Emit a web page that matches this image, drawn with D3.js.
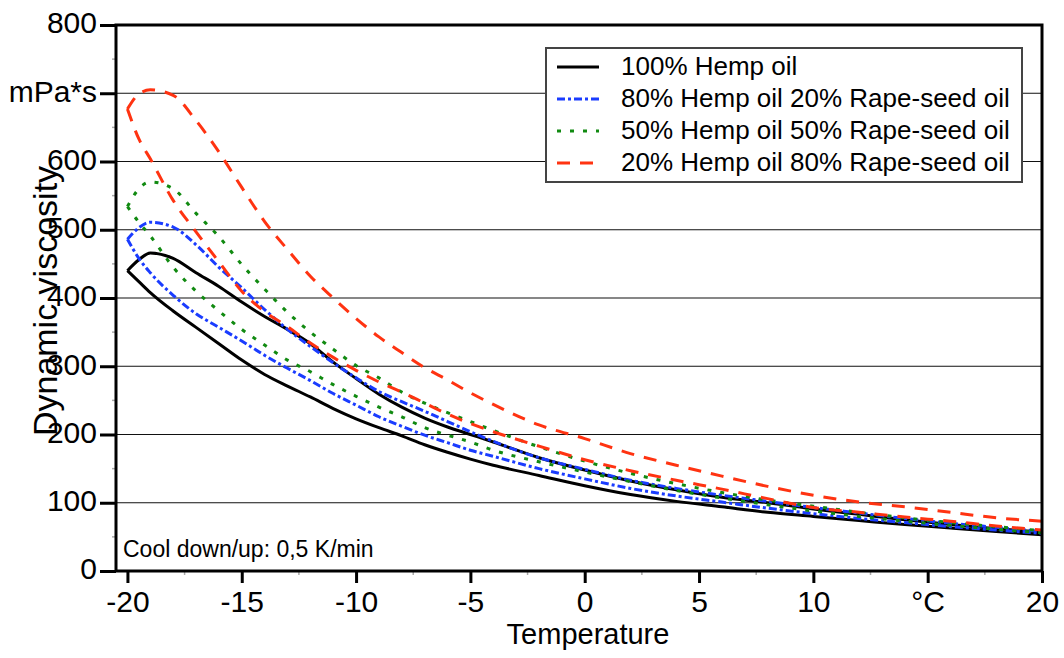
<!DOCTYPE html>
<meta charset="utf-8">
<script src="https://d3js.org/d3.v7.min.js"></script>
<html>
<body style="margin:0; background:#fff;">
<div id="chart"></div>
<script>
// temperature grid (°C) shared by all branches
var temps = [-20, -19.5, -19, -18, -17, -16, -15, -14, -13, -12, -11, -10, -9, -8, -7, -6, -5, -4, -2, 0, 2, 4, 6, 8, 10, 12, 14, 16, 18, 20];

// dynamic viscosity, mPa*s - upper and lower branch of each loop
var hempUpper  = [440, 456, 466, 458, 437, 417, 394, 373, 354, 333, 306, 282, 259, 240, 224, 211, 200, 189, 166, 148, 132, 119, 108, 100, 91, 83, 75, 68, 62, 57];
var hempLower  = [440, 424, 408, 381, 357, 333, 309, 288, 271, 255, 238, 223, 210, 198, 185, 174, 164, 155, 140, 125, 112, 102, 94, 86, 80, 74, 68, 63, 58, 53];
var mix80Upper = [486, 503, 511, 504, 478, 445, 415, 383, 354, 329, 305, 283, 263, 248, 234, 219, 204, 190, 166, 149, 133, 121, 111, 102, 93, 85, 77, 70, 64, 58];
var mix80Lower = [486, 458, 437, 404, 377, 357, 337, 316, 297, 279, 260, 243, 226, 212, 199, 188, 177, 168, 150, 135, 121, 110, 101, 92, 84, 77, 71, 65, 60, 55];
var mix50Upper = [534, 560, 570, 560, 524, 490, 449, 413, 379, 350, 325, 301, 283, 262, 246, 232, 219, 206, 182, 161, 143, 128, 115, 104, 95, 86, 78, 71, 65, 59];
var mix50Lower = [534, 511, 491, 445, 410, 381, 354, 331, 309, 292, 273, 256, 240, 226, 210, 199, 189, 177, 160, 145, 131, 118, 107, 97, 88, 80, 73, 67, 61, 56];
var mix20Upper = [677, 699, 705, 697, 660, 614, 562, 512, 471, 432, 400, 370, 343, 320, 298, 280, 261, 244, 214, 194, 172, 155, 139, 124, 111, 101, 94, 86, 78, 73];
var mix20Lower = [677, 633, 604, 543, 497, 453, 410, 380, 358, 334, 313, 294, 277, 262, 246, 230, 216, 204, 183, 163, 147, 133, 120, 106, 93, 86, 79, 73, 66, 60];

var seriesNames = ["100% Hemp oil", "80% Hemp oil 20% Rape-seed oil", "50% Hemp oil 50% Rape-seed oil", "20% Hemp oil 80% Rape-seed oil"];
var xTicks = [-20, -15, -10, -5, 0, 5, 10, 15, 20];
var xTickLabels = ["-20", "-15", "-10", "-5", "0", "5", "10", "°C", "20"];
var yTicks = [0, 100, 200, 300, 400, 500, 600, 700, 800];
var yTickLabels = ["0", "100", "200", "300", "400", "500", "600", "mPa*s", "800"];

var series = [
  {name: seriesNames[0], upper: hempUpper,  lower: hempLower,  color: "#000000", dash: null,       width: 3},
  {name: seriesNames[1], upper: mix80Upper, lower: mix80Lower, color: "#1a3cff", dash: "8,3,3,3",  width: 3},
  {name: seriesNames[2], upper: mix50Upper, lower: mix50Lower, color: "#118a11", dash: "4,9",      width: 3},
  {name: seriesNames[3], upper: mix20Upper, lower: mix20Lower, color: "#ff3311", dash: "13,10",    width: 3}
];

var W = 1064, H = 658;
var font = "'Liberation Sans', Arial, sans-serif";

var svg = d3.select("#chart").append("svg")
    .attr("width", W)
    .attr("height", H)
    .style("font-family", font);

var x = d3.scaleLinear().domain([-20.5, 20]).range([116, 1042]);
var y = d3.scaleLinear().domain([0, 800]).range([571, 25]);

// grid lines
svg.append("g")
  .selectAll("line")
  .data(yTicks.filter(function(d) { return d > 0 && d < 800; }))
  .enter().append("line")
    .attr("x1", x.range()[0]).attr("x2", x.range()[1])
    .attr("y1", function(d) { return y(d); })
    .attr("y2", function(d) { return y(d); })
    .attr("stroke", "#111")
    .attr("stroke-width", 1.2);

// curves
var line = d3.line()
    .x(function(d) { return x(d[0]); })
    .y(function(d) { return y(d[1]); })
    .curve(d3.curveMonotoneX);

var plot = svg.append("g");
series.forEach(function(s) {
  [s.upper, s.lower].forEach(function(vals) {
    plot.append("path")
      .datum(temps.map(function(t, i) { return [t, vals[i]]; }))
      .attr("d", line)
      .attr("fill", "none")
      .attr("stroke", s.color)
      .attr("stroke-width", s.width)
      .attr("stroke-dasharray", s.dash)
      .attr("stroke-linejoin", "round");
  });
});

// minor ticks
var minorX = d3.range(-17.5, 20, 5);
var minorY = d3.range(50, 800, 100);
svg.append("g").selectAll("line").data(minorX).enter().append("line")
  .attr("x1", function(d) { return x(d); }).attr("x2", function(d) { return x(d); })
  .attr("y1", 571).attr("y2", 575)
  .attr("stroke", "#aaa").attr("stroke-width", 1.5);
svg.append("g").selectAll("line").data(minorY).enter().append("line")
  .attr("x1", 112).attr("x2", 116)
  .attr("y1", function(d) { return y(d); }).attr("y2", function(d) { return y(d); })
  .attr("stroke", "#aaa").attr("stroke-width", 1.5);

// axes
var xAxis = svg.append("g")
    .attr("transform", "translate(0,571)")
    .call(d3.axisBottom(x).tickValues(xTicks).tickSize(12).tickPadding(8)
      .tickFormat(function(d, i) { return xTickLabels[i]; }));
xAxis.select(".domain").remove();
xAxis.selectAll(".tick line").attr("stroke", "#000").attr("stroke-width", 3);
xAxis.selectAll(".tick text")
    .attr("font-family", font).attr("font-size", 30).attr("fill", "#000")
    .attr("dy", "0.71em");

var yAxis = svg.append("g")
    .attr("transform", "translate(116,0)")
    .call(d3.axisLeft(y).tickValues(yTicks).tickSize(16).tickPadding(3)
      .tickFormat(function(d, i) { return yTickLabels[i]; }));
yAxis.select(".domain").remove();
yAxis.selectAll(".tick line").attr("stroke", "#000").attr("stroke-width", 3);
yAxis.selectAll(".tick text")
    .attr("font-family", font).attr("font-size", 30).attr("fill", "#000")
    .attr("dy", "0.26em");

// frame
svg.append("rect")
    .attr("x", 116).attr("y", 25)
    .attr("width", 1042 - 116).attr("height", 571 - 25)
    .attr("fill", "none")
    .attr("stroke", "#000")
    .attr("stroke-width", 3);

// axis titles
svg.append("text")
    .attr("x", 588).attr("y", 644)
    .attr("text-anchor", "middle")
    .attr("font-size", 29)
    .text("Temperature");

svg.append("text")
    .attr("transform", "translate(57,301) rotate(-90)")
    .attr("text-anchor", "middle")
    .attr("font-size", 34)
    .text("Dynamic viscosity");

// annotation
svg.append("text")
    .attr("x", 123).attr("y", 557)
    .attr("font-size", 23)
    .text("Cool down/up: 0,5 K/min");

// legend
var legend = svg.append("g");
legend.append("rect")
    .attr("x", 546).attr("y", 48)
    .attr("width", 476).attr("height", 134)
    .attr("fill", "#fff")
    .attr("stroke", "#444")
    .attr("stroke-width", 2);

series.forEach(function(s, i) {
  var ly = 67 + i * 32;
  legend.append("line")
    .attr("x1", 557).attr("x2", 599)
    .attr("y1", ly).attr("y2", ly)
    .attr("stroke", s.color)
    .attr("stroke-width", s.width)
    .attr("stroke-dasharray", s.dash);
  legend.append("text")
    .attr("x", 621).attr("y", ly + 8)
    .attr("font-size", 26)
    .text(s.name);
});
</script>
</body>
</html>
